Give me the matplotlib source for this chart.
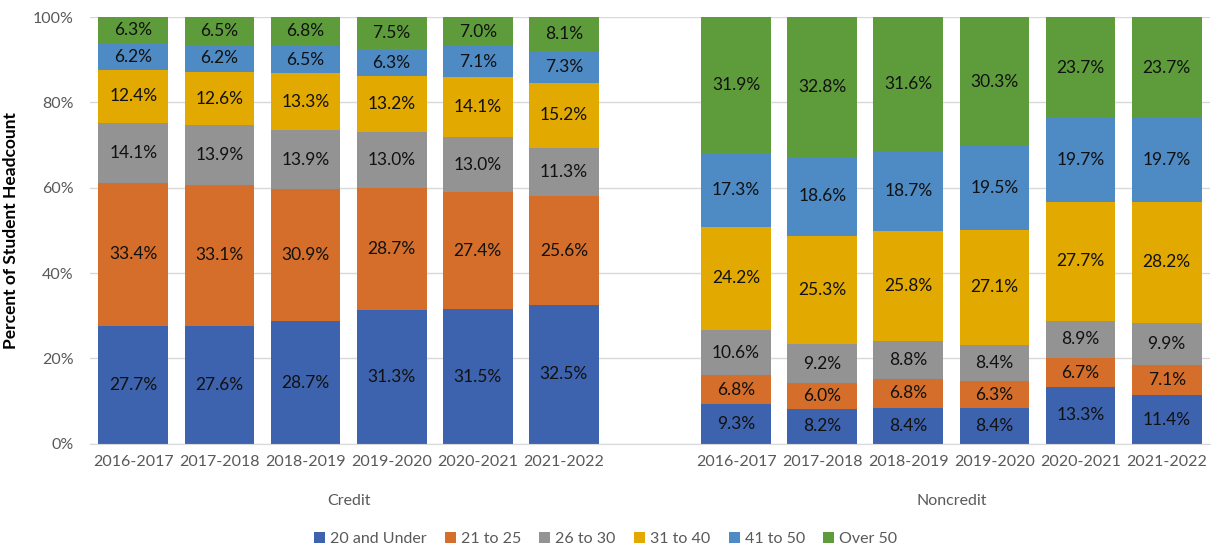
import matplotlib.pyplot as plt
import numpy as np

plt.rcParams['font.family'] = ['Lato', 'DejaVu Sans']

years = ['2016-2017', '2017-2018', '2018-2019', '2019-2020', '2020-2021', '2021-2022']
groups = ['20 and Under', '21 to 25', '26 to 30', '31 to 40', '41 to 50', 'Over 50']
colors = ['#3D63AE', '#D46E2A', '#939393', '#E2A900', '#4E8AC3', '#5E9C3B']

credit = [
    [27.7, 27.6, 28.7, 31.3, 31.5, 32.5],
    [33.4, 33.1, 30.9, 28.7, 27.4, 25.6],
    [14.1, 13.9, 13.9, 13.0, 13.0, 11.3],
    [12.4, 12.6, 13.3, 13.2, 14.1, 15.2],
    [6.2, 6.2, 6.5, 6.3, 7.1, 7.3],
    [6.3, 6.5, 6.8, 7.5, 7.0, 8.1],
]
noncredit = [
    [9.3, 8.2, 8.4, 8.4, 13.3, 11.4],
    [6.8, 6.0, 6.8, 6.3, 6.7, 7.1],
    [10.6, 9.2, 8.8, 8.4, 8.9, 9.9],
    [24.2, 25.3, 25.8, 27.1, 27.7, 28.2],
    [17.3, 18.6, 18.7, 19.5, 19.7, 19.7],
    [31.9, 32.8, 31.6, 30.3, 23.7, 23.7],
]

fig = plt.figure(figsize=(12.11, 5.5), dpi=100)
ax = fig.add_axes([0.0745, 0.193, 0.9245, 0.776])

x_credit = np.arange(6)
x_non = np.arange(7, 13)
w = 0.81

for xs, data in [(x_credit, credit), (x_non, noncredit)]:
    bottom = np.zeros(6)
    for i, vals in enumerate(data):
        vals = np.array(vals)
        ax.bar(xs, vals, w, bottom=bottom, color=colors[i],
               label=groups[i] if xs[0] == 0 else None, zorder=2)
        for x, b, v in zip(xs, bottom, vals):
            ax.text(x, b + v / 2, f'{v:.1f}%', ha='center', va='center',
                    fontsize=12.5, color='#111111', zorder=3)
        bottom += vals

ax.set_xlim(-0.5, 12.5)
ax.set_ylim(0, 100)
ax.set_yticks([0, 20, 40, 60, 80, 100])
ax.set_yticklabels(['0%', '20%', '40%', '60%', '80%', '100%'], fontsize=11.5, color='#595959')
ax.yaxis.grid(True, color='#D9D9D9', linewidth=1, zorder=0)
ax.set_xticks(list(x_credit) + list(x_non))
ax.set_xticklabels(years + years, fontsize=11.5, color='#595959')
ax.tick_params(length=0, pad=8)
ax.tick_params(axis='y', pad=12)
for s in ['top', 'right', 'left']:
    ax.spines[s].set_visible(False)
ax.spines['bottom'].set_color('#D9D9D9')

ax.text(2.5, -13.5, 'Credit', ha='center', va='center', fontsize=11.5, color='#595959')
ax.text(9.5, -13.5, 'Noncredit', ha='center', va='center', fontsize=11.5, color='#595959')

ax.set_ylabel('Percent of Student Headcount', fontsize=12.5, fontweight='bold', labelpad=10)

handles, labels = ax.get_legend_handles_labels()
fig.legend(handles, labels, loc='center', bbox_to_anchor=(0.5, 0.02), ncol=6,
           frameon=False, fontsize=11.5, handlelength=0.7, handleheight=0.7,
           handletextpad=0.3, columnspacing=1.15, labelcolor='#595959')

fig.savefig('out.png', dpi=100)
